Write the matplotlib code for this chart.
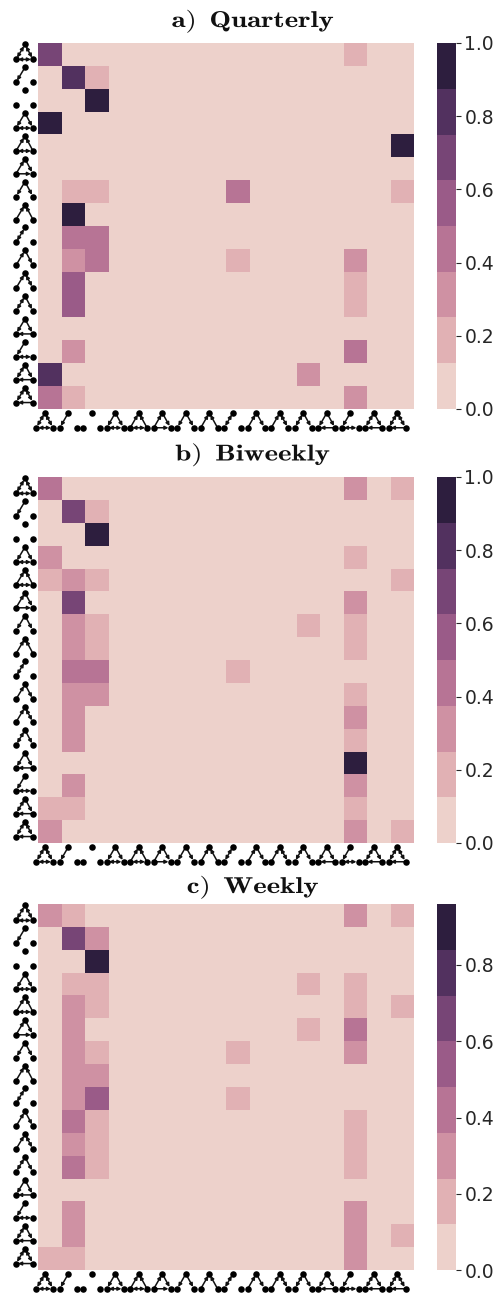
import numpy as np
import matplotlib
matplotlib.use("Agg")
import matplotlib.pyplot as plt
from matplotlib.colors import ListedColormap
from matplotlib.patheffects import AbstractPathEffect
from matplotlib.transforms import Affine2D
import seaborn as sns

titles = ["a) Quarterly", "b) Biweekly", "c) Weekly"]

quarterly = [
    [.67, 0, 0, 0, 0, 0, 0, 0, 0, 0, 0, 0, 0, .2, 0, 0],
    [0, .8, .2, 0, 0, 0, 0, 0, 0, 0, 0, 0, 0, 0, 0, 0],
    [0, 0, 1, 0, 0, 0, 0, 0, 0, 0, 0, 0, 0, 0, 0, 0],
    [1, 0, 0, 0, 0, 0, 0, 0, 0, 0, 0, 0, 0, 0, 0, 0],
    [0, 0, 0, 0, 0, 0, 0, 0, 0, 0, 0, 0, 0, 0, 0, 1],
    [0, 0, 0, 0, 0, 0, 0, 0, 0, 0, 0, 0, 0, 0, 0, 0],
    [0, .2, .2, 0, 0, 0, 0, 0, .43, 0, 0, 0, 0, 0, 0, .2],
    [0, 1, 0, 0, 0, 0, 0, 0, 0, 0, 0, 0, 0, 0, 0, 0],
    [0, .43, .43, 0, 0, 0, 0, 0, 0, 0, 0, 0, 0, 0, 0, 0],
    [0, .33, .43, 0, 0, 0, 0, 0, .2, 0, 0, 0, 0, .33, 0, 0],
    [0, .55, 0, 0, 0, 0, 0, 0, 0, 0, 0, 0, 0, .2, 0, 0],
    [0, .55, 0, 0, 0, 0, 0, 0, 0, 0, 0, 0, 0, .2, 0, 0],
    [0, 0, 0, 0, 0, 0, 0, 0, 0, 0, 0, 0, 0, 0, 0, 0],
    [0, .33, 0, 0, 0, 0, 0, 0, 0, 0, 0, 0, 0, .43, 0, 0],
    [.8, 0, 0, 0, 0, 0, 0, 0, 0, 0, 0, .33, 0, 0, 0, 0],
    [.43, .2, 0, 0, 0, 0, 0, 0, 0, 0, 0, 0, 0, .33, 0, 0],
]

biweekly = [
    [.43, 0, 0, 0, 0, 0, 0, 0, 0, 0, 0, 0, 0, .33, 0, .2],
    [0, .67, .2, 0, 0, 0, 0, 0, 0, 0, 0, 0, 0, 0, 0, 0],
    [0, 0, 1, 0, 0, 0, 0, 0, 0, 0, 0, 0, 0, 0, 0, 0],
    [.33, 0, 0, 0, 0, 0, 0, 0, 0, 0, 0, 0, 0, .2, 0, 0],
    [.2, .33, .2, 0, 0, 0, 0, 0, 0, 0, 0, 0, 0, 0, 0, .2],
    [0, .67, 0, 0, 0, 0, 0, 0, 0, 0, 0, 0, 0, .33, 0, 0],
    [0, .33, .2, 0, 0, 0, 0, 0, 0, 0, 0, .2, 0, .2, 0, 0],
    [0, .33, .2, 0, 0, 0, 0, 0, 0, 0, 0, 0, 0, .2, 0, 0],
    [0, .43, .43, 0, 0, 0, 0, 0, .2, 0, 0, 0, 0, 0, 0, 0],
    [0, .33, .33, 0, 0, 0, 0, 0, 0, 0, 0, 0, 0, .2, 0, 0],
    [0, .33, 0, 0, 0, 0, 0, 0, 0, 0, 0, 0, 0, .33, 0, 0],
    [0, .33, 0, 0, 0, 0, 0, 0, 0, 0, 0, 0, 0, .2, 0, 0],
    [0, 0, 0, 0, 0, 0, 0, 0, 0, 0, 0, 0, 0, 1, 0, 0],
    [0, .33, 0, 0, 0, 0, 0, 0, 0, 0, 0, 0, 0, .33, 0, 0],
    [.2, .2, 0, 0, 0, 0, 0, 0, 0, 0, 0, 0, 0, .2, 0, 0],
    [.33, 0, 0, 0, 0, 0, 0, 0, 0, 0, 0, 0, 0, .33, 0, .2],
]

weekly = [
    [.33, .2, 0, 0, 0, 0, 0, 0, 0, 0, 0, 0, 0, .33, 0, .2],
    [0, .67, .33, 0, 0, 0, 0, 0, 0, 0, 0, 0, 0, 0, 0, 0],
    [0, 0, .96, 0, 0, 0, 0, 0, 0, 0, 0, 0, 0, 0, 0, 0],
    [0, .2, .2, 0, 0, 0, 0, 0, 0, 0, 0, .2, 0, .2, 0, 0],
    [0, .33, .2, 0, 0, 0, 0, 0, 0, 0, 0, 0, 0, .2, 0, .2],
    [0, .33, 0, 0, 0, 0, 0, 0, 0, 0, 0, .2, 0, .43, 0, 0],
    [0, .33, .2, 0, 0, 0, 0, 0, .2, 0, 0, 0, 0, .33, 0, 0],
    [0, .33, .33, 0, 0, 0, 0, 0, 0, 0, 0, 0, 0, 0, 0, 0],
    [0, .33, .55, 0, 0, 0, 0, 0, .2, 0, 0, 0, 0, 0, 0, 0],
    [0, .43, .2, 0, 0, 0, 0, 0, 0, 0, 0, 0, 0, .2, 0, 0],
    [0, .33, .2, 0, 0, 0, 0, 0, 0, 0, 0, 0, 0, .2, 0, 0],
    [0, .43, .2, 0, 0, 0, 0, 0, 0, 0, 0, 0, 0, .2, 0, 0],
    [0, 0, 0, 0, 0, 0, 0, 0, 0, 0, 0, 0, 0, 0, 0, 0],
    [0, .33, 0, 0, 0, 0, 0, 0, 0, 0, 0, 0, 0, .33, 0, 0],
    [0, .33, 0, 0, 0, 0, 0, 0, 0, 0, 0, 0, 0, .33, 0, .2],
    [.2, .2, 0, 0, 0, 0, 0, 0, 0, 0, 0, 0, 0, .33, 0, 0],
]

# triad shown on each row / column, edges as source+target (Top, Left, Right)
motifs = [
    ["TL", "LT", "TR", "RT", "LR", "RL"],
    ["TL"],
    [],
    ["TL", "TR", "LR", "RL"],
    ["LT", "RT", "LR", "RL"],
    ["LT", "TR", "LR"],
    ["TL", "TR"],
    ["LT", "RT"],
    ["TL", "LT"],
    ["LT", "TR"],
    ["LT", "TR", "RT"],
    ["LT", "TL", "TR"],
    ["TL", "TR", "RL"],
    ["TL", "LR", "RL"],
    ["TL", "LT", "TR", "RL"],
    ["TL", "LT", "TR", "RT", "RL"],
]

cbar_ticks = [[0, .2, .4, .6, .8, 1], [0, .2, .4, .6, .8, 1], [0, .2, .4, .6, .8]]
tops = [43, 477, 904]
title_baselines = [27, 460.5, 893]

W, H = 496, 1293
cmap = ListedColormap(sns.cubehelix_palette(8))
plt.rcParams["mathtext.fontset"] = "cm"


class WideText(AbstractPathEffect):
    # cmb10 is narrower than the extended bold of the original, so widen the glyphs
    def __init__(self, cx, factor):
        super().__init__()
        self.cx = cx
        self.factor = factor

    def draw_path(self, renderer, gc, tpath, affine, rgbFace=None):
        stretch = Affine2D().translate(-self.cx, 0).scale(self.factor, 1).translate(self.cx, 0)
        renderer.draw_path(gc, tpath, affine + stretch, rgbFace)


def draw_motif(ax, x, y, edges):
    pos = {"T": (x["T"], y["T"]), "L": (x["L"], y["L"]), "R": (x["R"], y["R"])}
    for e in edges:
        a, b = e[0], e[1]
        both = (b + a) in edges
        if both and a > b:
            continue
        ax.annotate("", xy=pos[b], xytext=pos[a], annotation_clip=False,
                    arrowprops=dict(arrowstyle="<|-|>" if both else "-|>", color="#111111",
                                    lw=1.1, mutation_scale=5, shrinkA=1.5, shrinkB=1.5))
    ax.plot([pos[k][0] for k in pos], [pos[k][1] for k in pos], "o", color="black",
            ms=4.7, mew=0, clip_on=False, zorder=5)


fig = plt.figure(figsize=(W / 100, H / 100), dpi=100)
for i, mat in enumerate([quarterly, biweekly, weekly]):
    top = tops[i]
    ax = fig.add_axes([38 / W, 1 - (top + 366) / H, 376 / W, 366 / H])
    cax = fig.add_axes([437 / W, 1 - (top + 366) / H, 19 / W, 366 / H])
    sns.heatmap(np.array(mat), ax=ax, cbar_ax=cax, cmap=cmap, xticklabels=False, yticklabels=False)
    fig.text(253.5 / W, 1 - title_baselines[i] / H, r"$\mathbf{" + titles[i].replace(" ", r"\ \,") + "}$",
             fontsize=16.5, ha="center", va="baseline", color="#111111",
             path_effects=[WideText(253.5, 1.26)])
    cax.set_yticks(cbar_ticks[i])
    cax.set_yticklabels(["%.1f" % t for t in cbar_ticks[i]])
    cax.tick_params(labelsize=13.5, length=3.5, width=0.8, pad=2.5, colors="#262626")
    for k, edges in enumerate(motifs):
        # row label left of the heatmap
        draw_motif(ax, {"L": -0.936, "T": -0.553, "R": -0.213},
                   {"T": k + 0.5 - 0.437, "L": k + 0.5 + 0.218, "R": k + 0.5 + 0.218}, edges)
        # column label under the heatmap
        draw_motif(ax, {"L": k + 0.5 - 0.574, "T": k + 0.5 - 0.21, "R": k + 0.5 + 0.14},
                   {"T": 16.17, "L": 16.82, "R": 16.82}, edges)

fig.savefig("out.png", dpi=100)
